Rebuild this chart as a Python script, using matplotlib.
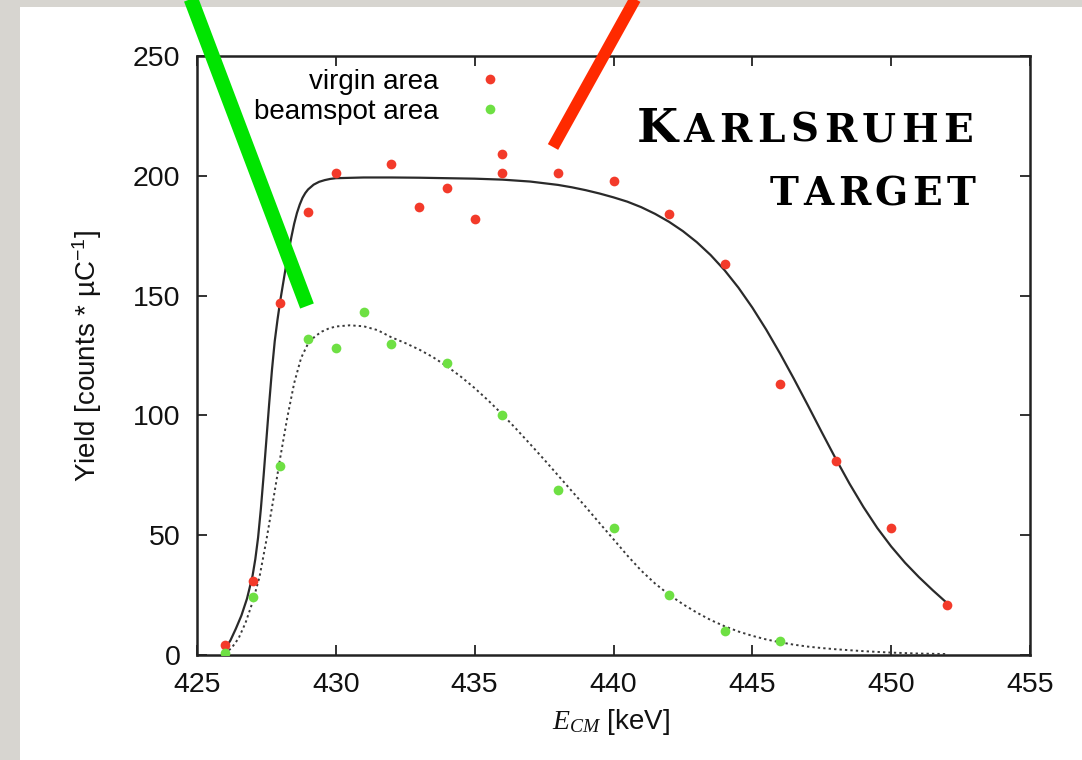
import numpy as np
import matplotlib
matplotlib.use("Agg")
import matplotlib.pyplot as plt
from matplotlib.lines import Line2D
from matplotlib.patches import Rectangle

plt.rcParams['font.family'] = ['Liberation Sans', 'DejaVu Sans']
plt.rcParams['mathtext.fontset'] = 'custom'
plt.rcParams['mathtext.it'] = 'Liberation Serif:italic'
plt.rcParams['mathtext.rm'] = 'Liberation Sans'
plt.rcParams['mathtext.default'] = 'regular'

# measured yields, virgin target area
virgin_e = [426, 427, 428, 429, 430, 432, 433, 434, 435, 436, 436, 438, 440,
            442, 444, 446, 448, 450, 452]
virgin_y = [4, 31, 147, 185, 201, 205, 187, 195, 182, 209, 201, 201, 198,
            184, 163, 113, 81, 53, 21]

# measured yields, beamspot area
beam_e = [426, 427, 428, 429, 430, 431, 432, 434, 436, 438, 440, 442, 444, 446]
beam_y = [1, 24, 79, 132, 128, 143, 130, 122, 100, 69, 53, 25, 10, 6]

# fitted profile, virgin area
fit_virgin_e = [426.0, 426.2, 426.4, 426.6, 426.8, 427.0, 427.1, 427.2,
                427.3, 427.4, 427.5, 427.6, 427.7, 427.8, 427.9, 428.0,
                428.1, 428.2, 428.3, 428.4, 428.5, 428.6, 428.7, 428.8,
                428.9, 429.0, 429.2, 429.4, 429.6, 429.8, 430.0, 431.0,
                432.0, 433.0, 434.0, 435.0, 436.0, 437.0, 438.0, 438.5,
                439.0, 439.5, 440.0, 440.5, 441.0, 441.5, 442.0, 442.5,
                443.0, 443.5, 444.0, 444.5, 445.0, 445.5, 446.0, 446.5,
                447.0, 447.5, 448.0, 448.5, 449.0, 449.5, 450.0, 450.5,
                451.0, 451.5, 452.0]
fit_virgin_y = [2.5, 6, 11, 16.5, 23.5, 33, 40, 49,
                61, 75, 90, 105, 119, 131, 140, 148,
                155, 162, 168.5, 174.5, 180, 184.5, 188, 190.8,
                192.8, 194.3, 196.3, 197.5, 198.2, 198.7, 199, 199.3,
                199.3, 199.2, 199.0, 198.8, 198.4, 197.6, 196.2, 195.2,
                194.0, 192.6, 191.0, 189.2, 186.9, 184.1, 180.8, 176.9,
                172.3, 166.9, 160.6, 153.3, 145.0, 135.8, 125.8, 115.2,
                104.2, 93.0, 82.0, 71.5, 61.8, 53.0, 45.3, 38.5,
                32.5, 27.0, 21.8]

# fitted profile, beamspot area
fit_beam_e = [426.0, 426.25, 426.5, 426.75, 427.0, 427.25, 427.5, 427.75,
              428.0, 428.25, 428.5, 428.75, 429.0, 429.25, 429.5, 429.75,
              430.0, 430.5, 431.0, 431.5, 432.0, 432.5, 433.0, 433.5,
              434.0, 434.5, 435.0, 435.5, 436.0, 436.5, 437.0, 437.5,
              438.0, 438.5, 439.0, 439.5, 440.0, 440.5, 441.0, 441.5,
              442.0, 442.5, 443.0, 443.5, 444.0, 444.5, 445.0, 445.5,
              446.0, 446.5, 447.0, 447.5, 448.0, 449.0, 450.0, 451.0, 452.0]
fit_beam_y = [0.5, 3, 7, 13.5, 22, 32.5, 48, 65,
              82.5, 99, 113.5, 124, 130, 133, 135, 136.3,
              137.1, 137.6, 137.2, 135.6, 132.6, 130.2, 127.5, 124.3,
              120.5, 116.2, 111.4, 106.1, 100.4, 94.3, 88.0, 81.6,
              75.0, 68.4, 61.8, 55.0, 48.3, 41.5, 35.2, 29.8,
              25.2, 21.2, 17.7, 14.6, 12.0, 9.8, 8.0, 6.5,
              5.3, 4.3, 3.5, 2.9, 2.4, 1.6, 1.0, 0.6, 0.4]

x_ticks = [425, 430, 435, 440, 445, 450, 455]
y_ticks = [0, 50, 100, 150, 200, 250]

W, H = 1082, 760
fig = plt.figure(figsize=(W / 100, H / 100), dpi=100, facecolor='#d7d5d0')

def fx(px):
    return px / W

def fy(py):
    return 1 - py / H

# white slide panel behind everything
fig.patches.append(Rectangle((fx(20), 0), 1, fy(7), transform=fig.transFigure,
                             facecolor='white', edgecolor='none', zorder=-10))

ax = fig.add_axes([fx(197), fy(655), fx(1030) - fx(197), fy(56) - fy(655)])
ax.set_facecolor('white')

ax.plot(fit_virgin_e, fit_virgin_y, '-', color='#2a2a2a', lw=1.6, zorder=3)
ax.plot(fit_beam_e, fit_beam_y, color='#3a3a3a', lw=1.4,
        linestyle=(0, (1.2, 1.6)), zorder=3)
ax.plot(virgin_e, virgin_y, 'o', color='#f33a2a', ms=7, mec='none',
        label='virgin area', zorder=4)
ax.plot(beam_e, beam_y, 'o', color='#6ee043', ms=7, mec='none',
        label='beamspot area', zorder=4)

ax.set_xlim(425, 455)
ax.set_ylim(0, 250)
ax.set_xticks(x_ticks)
ax.set_yticks(y_ticks)
ax.tick_params(direction='in', length=7, width=1.3, top=True, right=True,
               labelsize=20.5, pad=12, colors='#222222', labelcolor='#111111')
for sp in ax.spines.values():
    sp.set_linewidth(1.8)
    sp.set_color('#222222')

leg = ax.legend(loc='upper right', bbox_to_anchor=(fx(518), fy(69)),
                bbox_transform=fig.transFigure, frameon=False, fontsize=20,
                markerfirst=False, numpoints=1, handlelength=2.0,
                handletextpad=0.85, labelspacing=0.15, borderpad=0,
                borderaxespad=0)

fig.text(fx(87), fy(356), 'Yield [counts * µC$^{-1}$]', rotation=90,
         ha='center', va='center', fontsize=20, color='#111111')
fig.text(fx(611), fy(722), r'$\mathit{E_{CM}}$ [keV]', ha='center',
         va='center', fontsize=20, color='#111111')

# small-caps title, letter-spaced across a fixed span
serif = ['DejaVu Serif']
renderer = fig.canvas.get_renderer()

def spaced_word(word, sizes, x_left, x_right, base):
    texts = [fig.text(0, fy(base), ch, ha='left', va='baseline', fontsize=s,
                      family=serif, weight='bold', color='black')
             for ch, s in zip(word, sizes)]
    widths = [t.get_window_extent(renderer).width for t in texts]
    gap = (x_right - x_left - sum(widths)) / (len(word) - 1)
    x = x_left
    for t, w in zip(texts, widths):
        t.set_x(fx(x))
        x += w + gap

spaced_word('KARLSRUHE', [34] + [28] * 8, 637, 973, 142)
spaced_word('TARGET', [28] * 6, 770, 975, 205)

# pointer strokes
fig.add_artist(Line2D([fx(189), fx(307)], [fy(-6), fy(306)],
                      transform=fig.transFigure, color='#00e400', lw=10.5,
                      solid_capstyle='butt', zorder=10))
fig.add_artist(Line2D([fx(638), fx(553)], [fy(-6), fy(147)],
                      transform=fig.transFigure, color='#ff2a00', lw=8.5,
                      solid_capstyle='butt', zorder=10))

fig.savefig('out.png', dpi=100, facecolor=fig.get_facecolor())
